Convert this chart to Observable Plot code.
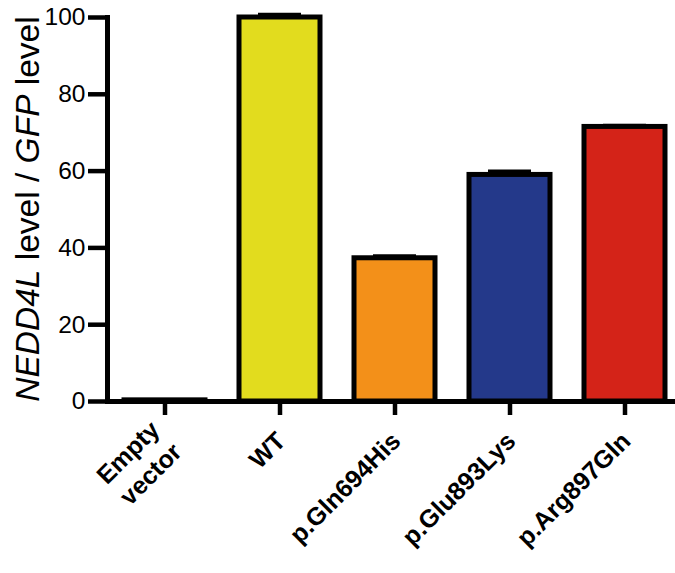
<!DOCTYPE html>
<html><head><meta charset="utf-8">
<script src="https://cdn.jsdelivr.net/npm/d3@7"></script>
<script src="https://cdn.jsdelivr.net/npm/@observablehq/plot@0.6"></script>
<style>
body{margin:0;background:#fff}
</style>
</head><body><div id="chart"></div>
<script>
const categories = ["Empty vector", "WT", "p.Gln694His", "p.Glu893Lys", "p.Arg897Gln"];
const values = [0.3, 100, 37.3, 59.0, 71.5];
const errors = [0, 0.7, 0.5, 0.9, 0.3];
const colors = ["#ffffff", "#e2dc1e", "#f39019", "#24398a", "#d42318"];
const yTicks = [0, 20, 40, 60, 80, 100];

const data = categories.map((c, i) => ({category: c, value: values[i], error: errors[i], color: colors[i]}));

const chart = Plot.plot({
  width: 675, height: 573,
  marginLeft: 107, marginTop: 17, marginBottom: 172, marginRight: 0,
  x: {domain: categories, range: [107, 681], paddingInner: 0.3, paddingOuter: 0.135, label: null},
  y: {domain: [0, 100], label: null},
  color: {type: "identity"},
  marks: [
    Plot.barY(data, {x: "category", y: "value", fill: "color", stroke: "black", strokeWidth: 5}),
    Plot.tickY(data.filter(d => d.error > 0), {x: "category", y: d => d.value + d.error, stroke: "black", strokeWidth: 4, insetLeft: 19, insetRight: 19}),
    Plot.ruleY([0], {stroke: "black", strokeWidth: 5}),
    Plot.frame({anchor: "left", stroke: "black", strokeWidth: 5}),
    Plot.axisY({ticks: yTicks, tickSize: 19, tickPadding: 3, fontSize: 24.5, strokeWidth: 4.5, label: null, tickFormat: d => String(d)}),
    Plot.axisX({tickSize: 14, tickPadding: 20, tickRotate: -45, fontSize: 25, fontWeight: "bold", lineHeight: 1.25, strokeWidth: 4.5, label: null,
      tickFormat: d => d === "Empty vector" ? "Empty\nvector" : d})
  ]
});
const svg = d3.select(chart)
  .attr("font-family", "Liberation Sans, Arial, Helvetica, sans-serif")
  .style("background", "white")
  .style("overflow", "visible");
document.getElementById("chart").appendChild(chart);

// y-axis title with mixed italic
const y = chart.scale("y");
const yMid = (y.apply(0) + y.apply(100)) / 2;
const t = svg.append("text")
  .attr("transform", `translate(39,${yMid}) rotate(-90)`)
  .attr("text-anchor", "middle")
  .attr("font-size", 33.5)
  .attr("fill", "black");
t.append("tspan").attr("font-style", "italic").text("NEDD4L");
t.append("tspan").text(" level / ");
t.append("tspan").attr("font-style", "italic").text("GFP");
t.append("tspan").text(" level");
</script>
</body></html>
